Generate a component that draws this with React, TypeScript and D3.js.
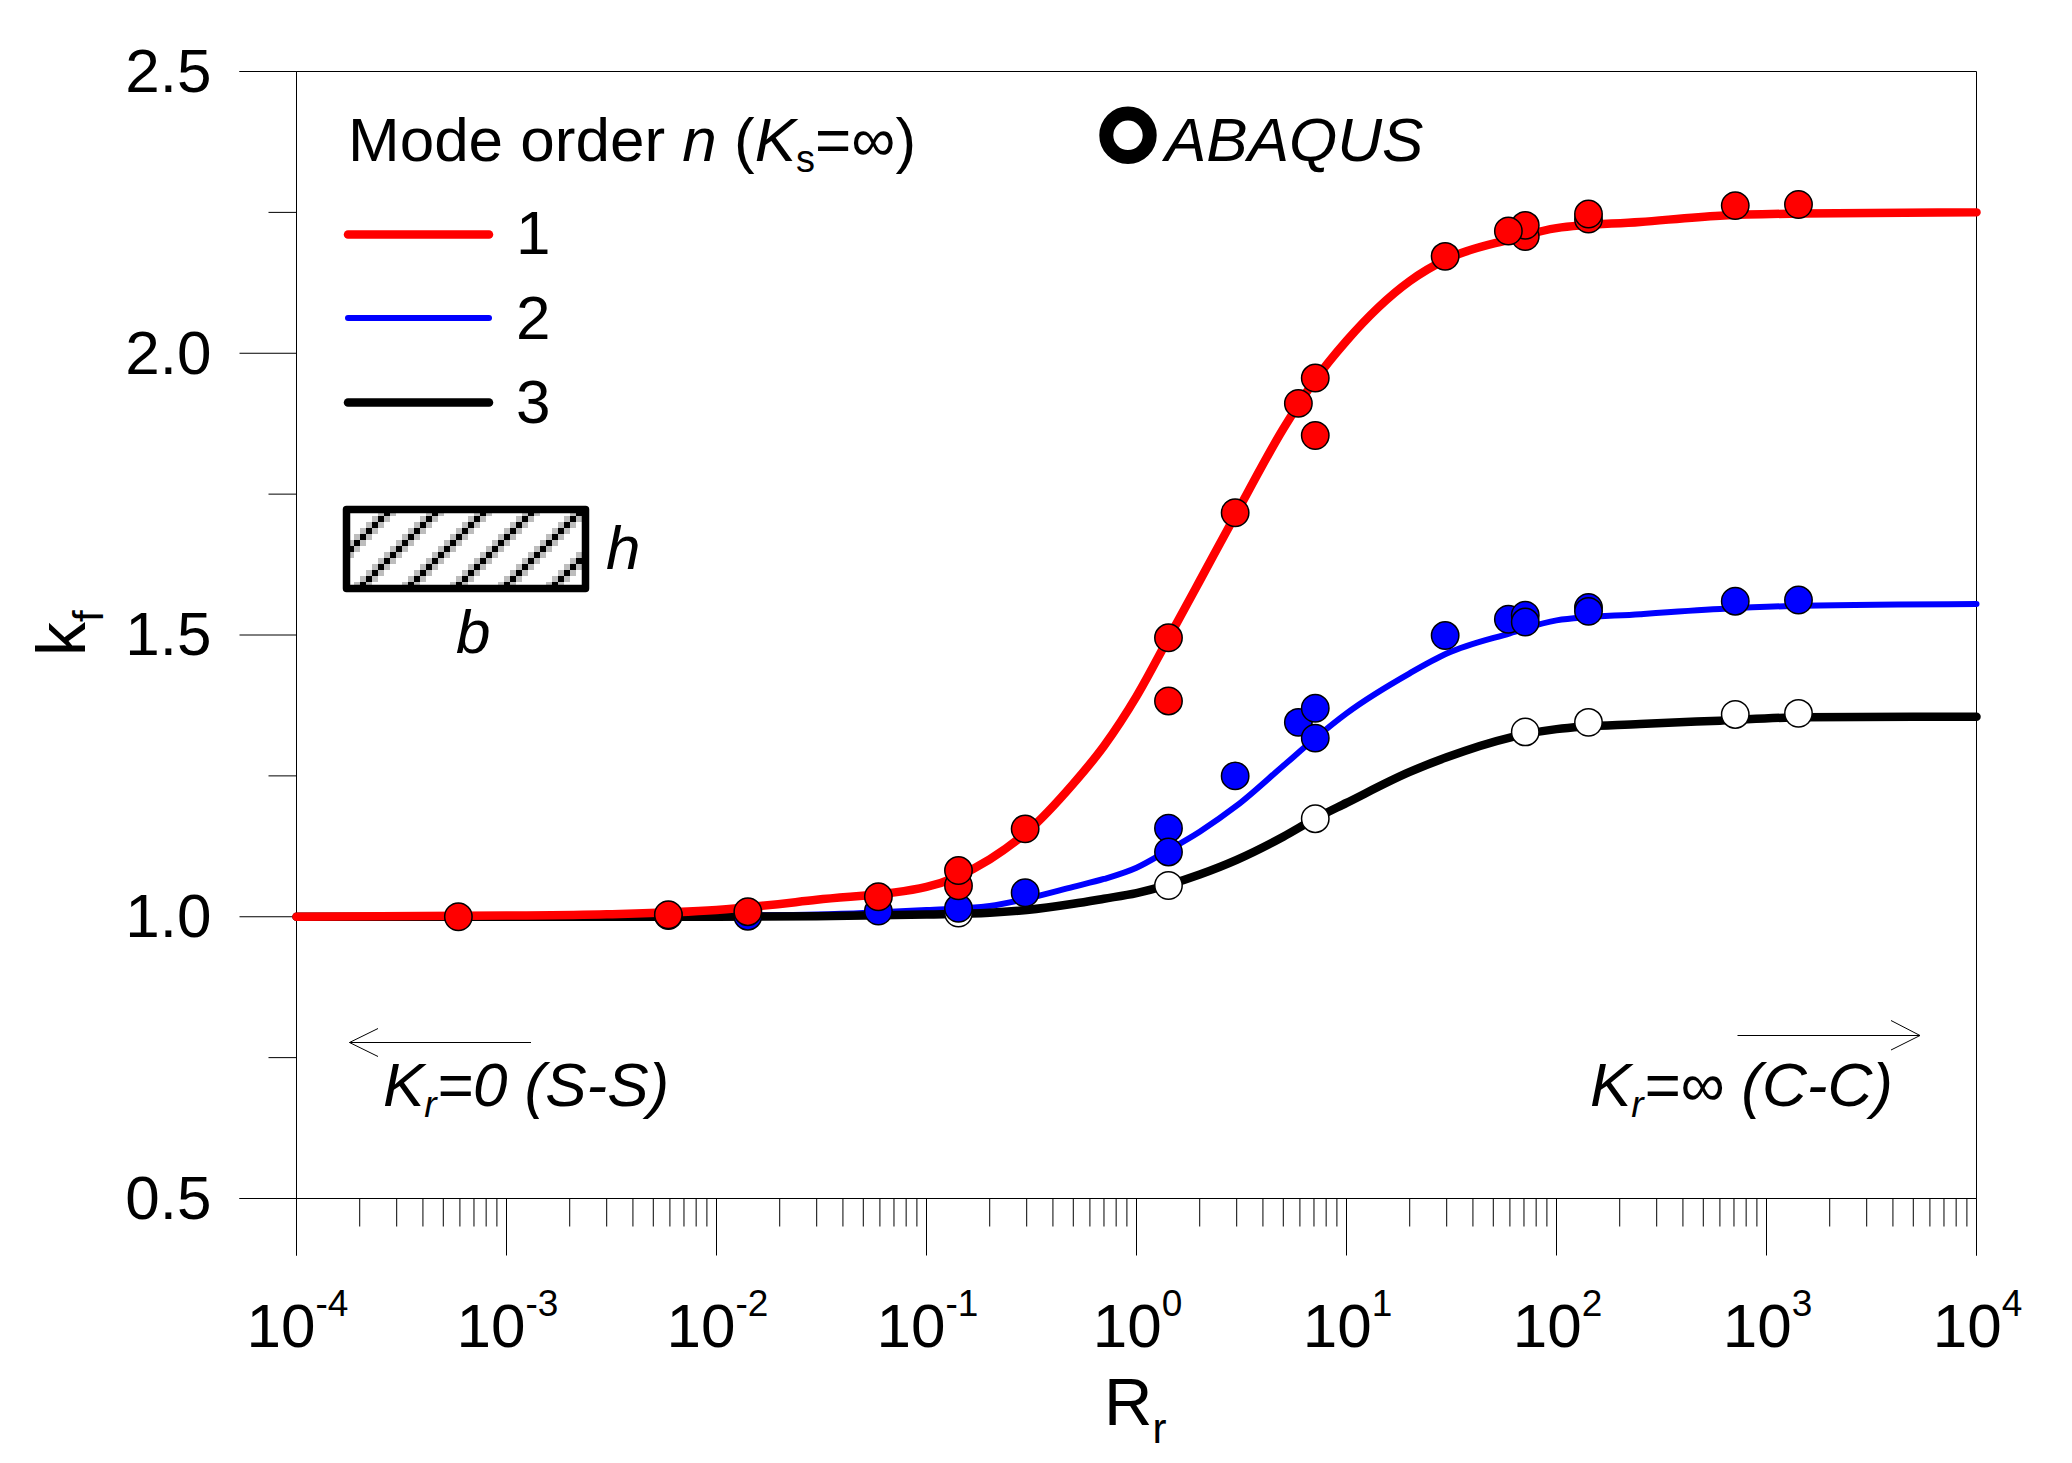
import React, { useEffect, useRef } from 'react';
import * as d3 from 'd3';

// curve knots, Rr
const curveRr = [0.0001, 0.001, 0.003, 0.01, 0.03, 0.1, 0.2, 0.3, 0.5, 0.7, 1, 1.4, 2, 3, 5, 7, 10, 20, 30, 60, 100, 250, 600, 1500, 10000];
const curveMode1 = [1.0, 1.002, 1.0045, 1.012, 1.03, 1.053, 1.102, 1.15, 1.236, 1.303, 1.391, 1.49, 1.596, 1.717, 1.866, 1.95, 2.022, 2.128, 2.167, 2.202, 2.222, 2.233, 2.244, 2.248, 2.25];
const curveMode2 = [1.0, 1.0, 1.001, 1.002, 1.004, 1.012, 1.019, 1.032, 1.053, 1.067, 1.087, 1.117, 1.151, 1.197, 1.268, 1.315, 1.361, 1.432, 1.467, 1.503, 1.526, 1.537, 1.546, 1.552, 1.555];
const curveMode3 = [1.0, 1.0, 1.0, 1.0, 1.001, 1.004, 1.007, 1.012, 1.023, 1.032, 1.042, 1.056, 1.075, 1.101, 1.142, 1.173, 1.202, 1.257, 1.283, 1.318, 1.333, 1.342, 1.348, 1.354, 1.355];

// ABAQUS points, drawn in this order
const pointsRr1 = [0.00059, 0.0059, 0.0141, 0.059, 0.142, 0.142, 0.295, 1.42, 1.42, 2.95, 7.1, 5.9, 7.1, 29.5, 71, 71, 59, 142, 142, 710, 1420];
const pointsK1 = [1.0, 1.0036, 1.009, 1.0355, 1.055, 1.082, 1.156, 1.383, 1.495, 1.717, 1.854, 1.911, 1.956, 2.172, 2.207, 2.227, 2.217, 2.238, 2.247, 2.262, 2.264];
const pointsRr2 = [0.0059, 0.0141, 0.059, 0.142, 0.295, 1.42, 1.42, 2.95, 5.9, 7.1, 7.1, 29.5, 59, 71, 71, 142, 142, 710, 1420];
const pointsK2 = [1.002, 1.001, 1.01, 1.015, 1.0426, 1.157, 1.115, 1.25, 1.345, 1.37, 1.317, 1.499, 1.528, 1.535, 1.523, 1.549, 1.542, 1.56, 1.562];
const pointsRr3 = [0.142, 1.42, 7.1, 71, 142, 710, 1420];
const pointsK3 = [1.0065, 1.0555, 1.174, 1.328, 1.345, 1.359, 1.361];

const yMajor = [0.5, 1.0, 1.5, 2.0, 2.5];
const yMinor = [0.75, 1.25, 1.75, 2.25];
const xExponents = [-4, -3, -2, -1, 0, 1, 2, 3, 4];
const minorFactors = [2, 3, 4, 5, 6, 7, 8, 9];

const FONT = '"Liberation Sans", Arial, sans-serif';

const App = () => {
  const svgRef = useRef<SVGSVGElement>(null);

  useEffect(() => {
    const svg = d3.select(svgRef.current);
    svg.selectAll('*').remove();

    const x = d3.scaleLog().domain([1e-4, 1e4]).range([296.5, 1976.5]);
    const y = d3.scaleLinear().domain([0.5, 2.5]).range([1198.5, 71.5]);

    svg.append('rect').attr('width', 2072).attr('height', 1463).attr('fill', 'white');

    // hatch of the section sketch
    const pattern = svg.append('defs').append('pattern')
      .attr('id', 'hatch')
      .attr('patternUnits', 'userSpaceOnUse')
      .attr('x', 36).attr('y', 0)
      .attr('width', 48).attr('height', 48)
      .attr('shape-rendering', 'crispEdges');
    d3.range(8).forEach(i => {
      const px = i * 6;
      const py = 42 - i * 6;
      pattern.append('rect').attr('x', px + 6 === 48 ? 0 : px + 6).attr('y', py).attr('width', 6).attr('height', 6).attr('fill', '#bdbdbd');
      pattern.append('rect').attr('x', px).attr('y', py === 0 ? 42 : py - 6).attr('width', 6).attr('height', 6).attr('fill', '#bdbdbd');
    });
    d3.range(8).forEach(i => {
      pattern.append('rect').attr('x', i * 6).attr('y', 42 - i * 6).attr('width', 6).attr('height', 6).attr('fill', 'black');
    });

    // frame
    svg.append('path')
      .attr('d', `M${x.range()[0]},${y(2.5)}H${x.range()[1]}V${y(0.5)}`)
      .attr('fill', 'none').attr('stroke', 'black').attr('stroke-width', 1);

    // axes
    const minorX = xExponents.slice(0, -1).flatMap(e => minorFactors.map(f => f * Math.pow(10, e)));
    const xMajorAxis = d3.axisBottom(x)
      .tickValues(xExponents.map(e => Math.pow(10, e)))
      .tickSize(57).tickPadding(0).offset(0)
      .tickFormat(() => '');
    const xMinorAxis = d3.axisBottom(x)
      .tickValues(minorX)
      .tickSize(28).offset(0)
      .tickFormat(() => '');
    const yMajorAxis = d3.axisLeft(y)
      .tickValues(yMajor)
      .tickSize(57).tickPadding(28).offset(0)
      .tickFormat(d3.format('.1f') as any);
    const yMinorAxis = d3.axisLeft(y)
      .tickValues(yMinor)
      .tickSize(28).offset(0)
      .tickFormat(() => '');

    const gx = svg.append('g').attr('transform', `translate(0,${y(0.5)})`).call(xMajorAxis);
    const gxm = svg.append('g').attr('transform', `translate(0,${y(0.5)})`).call(xMinorAxis);
    const gy = svg.append('g').attr('transform', `translate(${x(1e-4)},0)`).call(yMajorAxis);
    const gym = svg.append('g').attr('transform', `translate(${x(1e-4)},0)`).call(yMinorAxis);
    [gx, gxm, gy, gym].forEach(g => {
      g.selectAll('.tick line').attr('stroke', 'black').attr('stroke-width', 1);
    });
    gy.select('.domain').attr('stroke', 'black');
    gx.select('.domain').attr('stroke', 'black');
    gxm.select('.domain').remove();
    gym.select('.domain').remove();
    gy.selectAll('.tick text')
      .attr('font-family', FONT).attr('font-size', 62).attr('fill', 'black').attr('dy', '0.33em');

    // x tick labels, 10 with a raised exponent
    const labels = svg.append('g').attr('font-family', FONT).attr('fill', 'black');
    xExponents.forEach(e => {
      const t = labels.append('text')
        .attr('x', x(Math.pow(10, e)) + 1)
        .attr('y', 1347)
        .attr('text-anchor', 'middle')
        .attr('font-size', 62);
      t.append('tspan').text('10');
      t.append('tspan').attr('font-size', 37).attr('dy', -31).text(String(e));
    });

    // curves
    const line = d3.line<number>()
      .x((_, i) => x(curveRr[i]))
      .y(d => y(d))
      .curve(d3.curveMonotoneX);
    const curves: [number[], string, number][] = [
      [curveMode2, '#0000ff', 6],
      [curveMode3, 'black', 8.5],
      [curveMode1, '#ff0000', 8.5],
    ];
    curves.forEach(([values, color, w]) => {
      svg.append('path')
        .attr('d', line(values))
        .attr('fill', 'none')
        .attr('stroke', color)
        .attr('stroke-width', w)
        .attr('stroke-linecap', 'round');
    });

    // points
    const dots: [number[], number[], string][] = [
      [pointsRr3, pointsK3, 'white'],
      [pointsRr2, pointsK2, '#0000ff'],
      [pointsRr1, pointsK1, '#ff0000'],
    ];
    dots.forEach(([rr, k, color]) => {
      svg.append('g').selectAll('circle')
        .data(k)
        .enter()
        .append('circle')
        .attr('cx', (_, i) => x(rr[i]))
        .attr('cy', d => y(d))
        .attr('r', 13.7)
        .attr('fill', color)
        .attr('stroke', 'black')
        .attr('stroke-width', 1.5);
    });

    const note = svg.append('g').attr('font-family', FONT).attr('fill', 'black');

    // legend title
    const title = note.append('text').attr('x', 348).attr('y', 161).attr('font-size', 62);
    title.append('tspan').text('Mode order ');
    title.append('tspan').attr('font-style', 'italic').text('n');
    title.append('tspan').text(' (');
    title.append('tspan').attr('font-style', 'italic').text('K');
    title.append('tspan').attr('font-size', 38).attr('dy', 11).text('s');
    title.append('tspan').attr('dy', -11).text('=∞)');

    // legend lines
    const legendRows: [string, string, number, number, number][] = [
      ['1', '#ff0000', 8.5, 234.5, 254],
      ['2', '#0000ff', 6, 318, 339],
      ['3', 'black', 8.5, 402.5, 423],
    ];
    legendRows.forEach(([label, color, w, ly, by]) => {
      note.append('line')
        .attr('x1', 348).attr('x2', 489).attr('y1', ly).attr('y2', ly)
        .attr('stroke', color).attr('stroke-width', w).attr('stroke-linecap', 'round');
      note.append('text').attr('x', 516).attr('y', by).attr('font-size', 62).text(label);
    });

    // section sketch
    note.append('rect')
      .attr('x', 346.5).attr('y', 509.5).attr('width', 239).attr('height', 79)
      .attr('fill', 'url(#hatch)')
      .attr('stroke', 'black').attr('stroke-width', 7.5).attr('stroke-linejoin', 'round');
    note.append('text').attr('x', 606).attr('y', 569).attr('font-size', 62).attr('font-style', 'italic').text('h');
    note.append('text').attr('x', 456).attr('y', 653).attr('font-size', 62).attr('font-style', 'italic').text('b');

    // ABAQUS marker
    note.append('circle')
      .attr('cx', 1128).attr('cy', 135.3).attr('r', 21.7)
      .attr('fill', 'white').attr('stroke', 'black').attr('stroke-width', 14);
    note.append('text').attr('x', 1165).attr('y', 161).attr('font-size', 62).attr('font-style', 'italic').text('ABAQUS');

    // limit notes
    const leftNote = note.append('text').attr('x', 383).attr('y', 1106).attr('font-size', 62).attr('font-style', 'italic');
    leftNote.append('tspan').text('K');
    leftNote.append('tspan').attr('font-size', 37).attr('dy', 11).text('r');
    leftNote.append('tspan').attr('dy', -11).text('=0 (S-S)');

    const rightNote = note.append('text').attr('x', 1590).attr('y', 1106).attr('font-size', 62).attr('font-style', 'italic');
    rightNote.append('tspan').text('K');
    rightNote.append('tspan').attr('font-size', 37).attr('dy', 11).text('r');
    rightNote.append('tspan').attr('dy', -11).text('=∞ (C-C)');

    note.append('path')
      .attr('d', 'M531,1042.5H349.5M378,1028.5L349.5,1042.5L378,1056.5')
      .attr('fill', 'none').attr('stroke', 'black').attr('stroke-width', 1);
    note.append('path')
      .attr('d', 'M1737.5,1035.5H1920M1891,1020.5L1920,1035.5L1891,1050')
      .attr('fill', 'none').attr('stroke', 'black').attr('stroke-width', 1);

    // axis titles
    const xTitle = note.append('text').attr('x', 1104).attr('y', 1425).attr('font-size', 67);
    xTitle.append('tspan').text('R');
    xTitle.append('tspan').attr('font-size', 42).attr('dy', 18).text('r');

    const yTitle = note.append('text')
      .attr('transform', 'translate(85,656) rotate(-90)')
      .attr('font-size', 68);
    yTitle.append('tspan').text('k');
    yTitle.append('tspan').attr('font-size', 42).attr('dy', 18).text('f');
  }, []);

  return (
    <svg
      ref={svgRef}
      width={2072}
      height={1463}
      style={{ position: 'absolute', left: 0, top: 0, display: 'block' }}
    />
  );
};

export default App;
